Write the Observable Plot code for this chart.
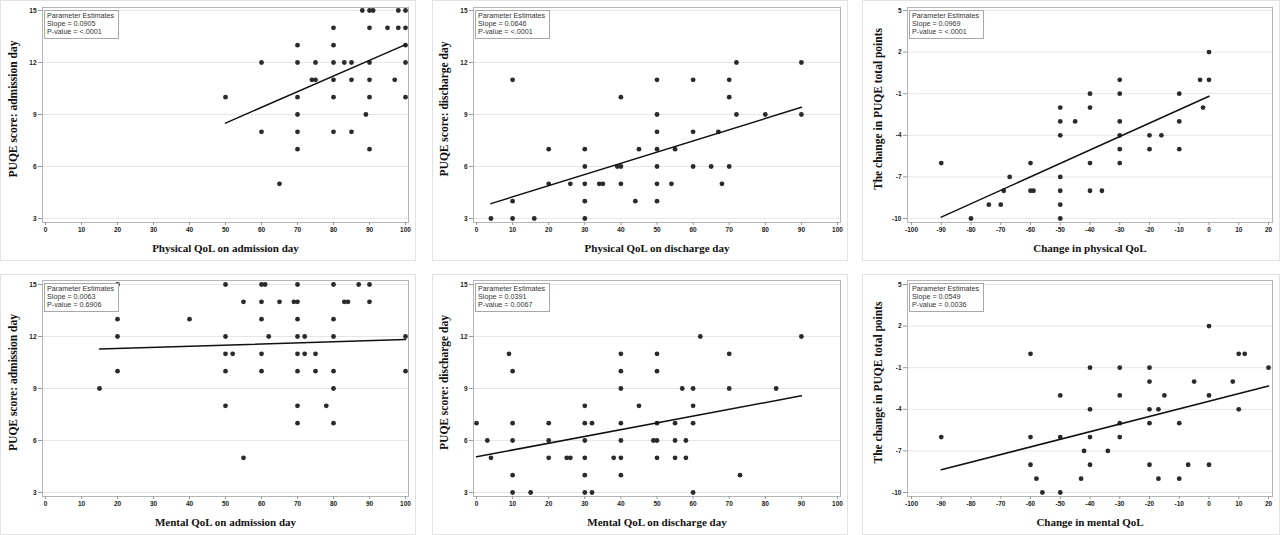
<!DOCTYPE html>
<html><head><meta charset="utf-8">
<script src="https://cdn.jsdelivr.net/npm/d3@7"></script>
<script src="https://cdn.jsdelivr.net/npm/@observablehq/plot@0.6"></script>
<style>
body{margin:0;background:#fff;}
#wrap{position:relative;width:1280px;height:535px;overflow:hidden;background:#fff}
.panel{position:absolute;}
.panel svg{position:absolute;left:0;top:0;overflow:visible}
.pborder{position:absolute;left:0;top:0;right:0;bottom:0;border:1px solid #e2e2e2;pointer-events:none}
.legend{position:absolute;border:1px solid #a8a8a8;background:#fff;font-family:"Liberation Sans",Arial,sans-serif;font-size:7.2px;color:#333;line-height:8.2px;padding:1px 4px 1px 2px;white-space:pre}
</style></head><body><div id="wrap"></div><script>
// ---- data ----
const physAdmX = [50,60,60,65,70,70,70,70,70,70,74,75,75,80,80,80,80,80,80,83,85,85,85,88,89,90,91,90,90,90,90,90,95,97,98,98,100,100,100,100,100];
const puqeAdmY1 = [10,12,8,5,13,12,10,9,8,7,11,11,12,14,13,12,11,10,8,12,12,11,8,15,9,15,15,14,12,11,10,7,14,11,15,14,15,14,13,12,10];

const physDisX = [4,10,10,10,16,20,20,26,30,30,30,30,30,34,35,39,40,40,40,44,45,50,50,50,50,50,50,50,54,55,60,60,60,65,67,68,70,70,70,72,72,80,90,90];
const puqeDisY1 = [3,11,4,3,3,7,5,5,7,6,5,4,3,5,5,6,6,10,5,4,7,11,9,8,7,6,5,4,5,7,11,8,6,6,8,5,11,10,6,12,9,9,12,9];

const physChgX = [-90,-80,-74,-70,-69,-67,-60,-60,-59,-50,-50,-50,-50,-50,-50,-50,-45,-40,-40,-40,-40,-36,-30,-30,-30,-30,-30,-30,-20,-20,-16,-10,-10,-10,-3,-2,0,0];
const puqeChgY1 = [-6,-10,-9,-9,-8,-7,-6,-8,-8,-2,-3,-4,-7,-8,-9,-10,-3,-1,-2,-6,-8,-8,0,-1,-3,-4,-5,-6,-4,-5,-4,-1,-3,-5,0,-2,2,0];

const mentAdmX = [15,20,20,20,20,40,50,50,50,50,50,52,55,55,60,61,60,60,60,60,62,65,69,70,70,70,70,70,70,70,70,72,72,75,75,78,80,80,80,80,80,80,83,84,87,90,90,100,100];
const puqeAdmY2 = [9,15,13,12,10,13,15,12,11,10,8,11,14,5,15,15,14,13,11,10,12,14,14,14,15,13,12,11,10,8,7,12,11,11,10,8,15,13,12,10,9,7,14,14,15,15,14,12,10];

const mentDisX = [0,3,4,9,10,10,10,10,10,15,20,20,20,25,26,30,30,30,30,30,30,32,32,38,40,40,40,40,40,40,40,45,49,50,50,50,50,50,55,55,55,57,58,58,60,60,60,60,62,70,70,73,83,90];
const puqeDisY2 = [7,6,5,11,10,7,6,4,3,3,7,6,5,5,5,8,7,6,5,4,3,7,3,5,11,10,9,7,6,5,4,8,6,6,11,10,7,5,7,6,5,9,6,5,9,8,7,3,12,11,9,4,9,12];

const mentChgX = [-90,-60,-60,-60,-58,-56,-50,-50,-50,-43,-42,-40,-40,-40,-40,-34,-30,-30,-30,-30,-20,-20,-20,-20,-20,-17,-17,-15,-10,-10,-7,-5,0,0,0,8,10,10,12,20];
const puqeChgY2 = [-6,0,-6,-8,-9,-10,-3,-6,-10,-9,-7,-1,-4,-6,-8,-7,-1,-3,-5,-6,-1,-2,-4,-5,-8,-4,-9,-3,-5,-9,-8,-2,2,-3,-8,-2,0,-4,0,-1];

const slopes = [0.0905, 0.0646, 0.0969, 0.0063, 0.0391, 0.0549];
const intercepts = [3.98, 3.60, -1.18, 11.19, 5.06, -3.42];
const slopeLabels = ["0.0905", "0.0646", "0.0969", "0.0063", "0.0391", "0.0549"];
const pValues = ["<.0001", "<.0001", "<.0001", "0.6906", "0.0067", "0.0036"];

const xLabels = ["Physical QoL on admission day", "Physical QoL on discharge day", "Change in physical QoL",
                 "Mental QoL on admission day", "Mental QoL on discharge day", "Change in mental QoL"];
const yLabels = ["PUQE score: admission day", "PUQE score: discharge day", "The change in PUQE total points",
                 "PUQE score: admission day", "PUQE score: discharge day", "The change in PUQE total points"];

const xTicksQoL = [0,10,20,30,40,50,60,70,80,90,100];
const xTicksChg = [-100,-90,-80,-70,-60,-50,-40,-30,-20,-10,0,10,20];
const yTicksPuqe = [3,6,9,12,15];
const yTicksChg = [-10,-7,-4,-1,2,5];

// ---- panels ----
const panels = [
  {x: physAdmX, y: puqeAdmY1, xt: xTicksQoL, yt: yTicksPuqe},
  {x: physDisX, y: puqeDisY1, xt: xTicksQoL, yt: yTicksPuqe},
  {x: physChgX, y: puqeChgY1, xt: xTicksChg, yt: yTicksChg},
  {x: mentAdmX, y: puqeAdmY2, xt: xTicksQoL, yt: yTicksPuqe},
  {x: mentDisX, y: puqeDisY2, xt: xTicksQoL, yt: yTicksPuqe},
  {x: mentChgX, y: puqeChgY2, xt: xTicksChg, yt: yTicksChg}
];

const cols = [
  {left: 0, width: 416, mL: 42, mR: 8, inL: 3, inR: 3},
  {left: 432, width: 416, mL: 41, mR: 8, inL: 3, inR: 3},
  {left: 862, width: 418, mL: 45, mR: 8, inL: 4, inR: 4}
];
const rows = [
  {top: 0, height: 261, mT: 7, mB: 39, inT: 3, inB: 4},
  {top: 274, height: 261, mT: 6, mB: 39, inT: 4, inB: 4}
];

const wrap = document.getElementById("wrap");
const fmt = d => String(d);

panels.forEach((p, i) => {
  const c = cols[i % 3], r = rows[Math.floor(i / 3)];
  const pts = p.x.map((v, k) => ({x: v, y: p.y[k]}));
  const [x0, x1] = d3.extent(p.x);
  const fit = [x0, x1].map(v => ({x: v, y: intercepts[i] + slopes[i] * v}));
  const chart = Plot.plot({
    width: c.width, height: r.height,
    marginLeft: c.mL, marginRight: c.mR, marginTop: r.mT, marginBottom: r.mB,
    style: {fontFamily: "'Liberation Sans', Arial, sans-serif", fontSize: "6.5px", fontWeight: "bold", background: "transparent", color: "#222"},
    x: {domain: d3.extent(p.xt), insetLeft: c.inL, insetRight: c.inR},
    y: {domain: d3.extent(p.yt), insetTop: r.inT, insetBottom: r.inB},
    marks: [
      Plot.gridY(p.yt, {stroke: "#e6e6e6", strokeOpacity: 1}),
      Plot.frame({stroke: "#b5b5b5"}),
      Plot.axisX(p.xt, {tickSize: 3, tickPadding: 2, tickFormat: fmt, stroke: "#999", fill: "#222", label: null}),
      Plot.axisY(p.yt, {tickSize: 4, tickPadding: 2, tickFormat: fmt, stroke: "#999", fill: "#222", label: null}),
      Plot.dot(pts, {x: "x", y: "y", r: 2.4, fill: "#2a2a2a", stroke: "none"}),
      Plot.line(fit, {x: "x", y: "y", stroke: "#111", strokeWidth: 1.5}),
      Plot.text([xLabels[i]], {frameAnchor: "bottom", dy: 26, lineAnchor: "middle", textAnchor: "middle", text: d => d, fontFamily: "'Liberation Serif', 'Times New Roman', serif", fontSize: 11, fontWeight: "bold", fill: "#111"}),
      Plot.text([yLabels[i]], {frameAnchor: "left", dx: -29, dy: -6, rotate: -90, lineAnchor: "middle", textAnchor: "middle", text: d => d, fontFamily: "'Liberation Serif', 'Times New Roman', serif", fontSize: 11.5, fontWeight: "bold", fill: "#111"})
    ]
  });
  const div = document.createElement("div");
  div.className = "panel";
  div.style.left = c.left + "px"; div.style.top = r.top + "px";
  div.style.width = c.width + "px"; div.style.height = r.height + "px";
  div.appendChild(chart);
  const border = document.createElement("div");
  border.className = "pborder";
  div.appendChild(border);
  const leg = document.createElement("div");
  leg.className = "legend";
  leg.style.left = (c.mL + 2) + "px";
  leg.style.top = (r.mT + 3) + "px";
  leg.textContent = "Parameter Estimates\nSlope = " + slopeLabels[i] + "\nP-value = " + pValues[i];
  div.appendChild(leg);
  wrap.appendChild(div);
});
</script></body></html>
